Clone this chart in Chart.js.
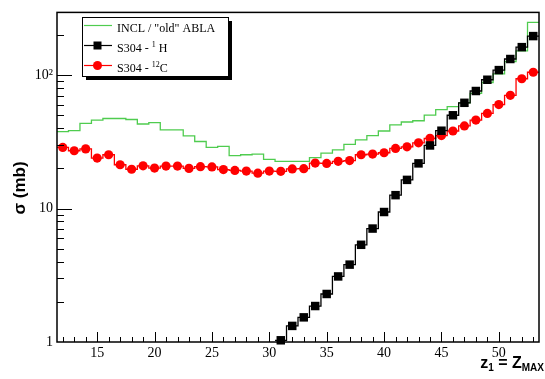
<!DOCTYPE html>
<html>
<head>
<meta charset="utf-8">
<script src="https://cdn.jsdelivr.net/npm/chart.js@4.4.0/dist/chart.umd.min.js"></script>
<style>
  html, body { margin: 0; padding: 0; background: #fff; }
  #wrap { width: 545px; height: 379px; position: relative; }
</style>
</head>
<body>
<div id="wrap"><canvas id="xsec"></canvas></div>
<script>
// z bins of the histograms (bin width 1)
const zBins = [12, 13, 14, 15, 16, 17, 18, 19, 20, 21, 22, 23, 24, 25, 26, 27, 28, 29, 30, 31, 32,
               33, 34, 35, 36, 37, 38, 39, 40, 41, 42, 43, 44, 45, 46, 47, 48, 49, 50, 51, 52, 53];
const zBinsH = [31, 32, 33, 34, 35, 36, 37, 38, 39, 40, 41, 42, 43, 44, 45, 46, 47, 48, 49, 50, 51, 52, 53];

// sigma in mb
const inclAbla = [37.7, 38.3, 43.5, 46.0, 47.3, 47.3, 46.5, 43.0, 44.0, 38.8, 38.8, 35.0, 31.8, 28.7,
                  29.2, 24.9, 25.3, 25.6, 23.4, 22.6, 22.6, 22.6, 24.1, 26.0, 27.5, 30.3, 32.7, 35.2,
                  38.1, 42.3, 44.5, 45.5, 50.2, 55.2, 58.0, 62.0, 73.0, 88.0, 102, 126, 152, 248];
const s304H = [1.03, 1.32, 1.53, 1.86, 2.29, 3.10, 3.80, 5.35, 7.08, 9.42, 12.6, 16.4, 21.8, 29.7,
               38.3, 50.0, 62.0, 76.0, 92.3, 109, 132, 162, 196];
const s304C = [28.7, 27.1, 28.0, 23.9, 25.3, 21.3, 19.7, 20.9, 20.1, 20.8, 20.8, 20.0, 20.6, 20.5,
               19.6, 19.3, 19.1, 18.4, 19.1, 19.0, 19.8, 19.9, 21.9, 21.8, 22.6, 22.9, 25.3, 25.6,
               26.2, 28.2, 29.0, 31.1, 33.6, 35.2, 38.1, 41.6, 46.0, 51.6, 60.1, 70.6, 93.9, 105];

const xTickLabels = [15, 20, 25, 30, 35, 40, 45, 50];
const yTickValues = [1, 10, 100];
const yTickText = ['1', '10', '10²'];

const GREEN = '#4fcc4f';
const RED = '#ff0000';
const BLACK = '#000000';

// histogram outline: value held over [z-0.5, z+0.5]
function histPoints(bins, vals) {
    const pts = bins.map((z, i) => ({ x: z - 0.5, y: vals[i] }));
    pts.push({ x: bins[bins.length - 1] + 0.5, y: vals[vals.length - 1] });
    return pts;
}
function markerPoints(bins, vals) {
    return bins.map((z, i) => ({ x: z, y: vals[i] }));
}

// ticks pointing inward, frame, legend box and axis titles
const rootStyle = {
    id: 'rootStyle',
    afterDraw(chart) {
        const { ctx, chartArea: a, scales: { x, y } } = chart;
        ctx.save();
        ctx.strokeStyle = '#000';
        ctx.lineWidth = 1;
        for (let z = Math.ceil(x.min); z <= x.max; z++) {
            const px = Math.round(x.getPixelForValue(z)) + 0.5;
            const len = z % 5 === 0 ? 10 : 5;
            ctx.beginPath();
            ctx.moveTo(px, a.bottom);
            ctx.lineTo(px, a.bottom - len);
            ctx.stroke();
        }
        y.ticks.forEach(t => {
            const v = t.value;
            const mant = v / Math.pow(10, Math.floor(Math.log10(v) + 1e-9));
            if (Math.abs(mant - Math.round(mant)) > 1e-6) return;
            if (v <= y.min || v > y.max) return;
            const py = Math.round(y.getPixelForValue(v)) + 0.5;
            const len = yTickValues.includes(v) ? 15 : 7;
            ctx.beginPath();
            ctx.moveTo(a.left, py);
            ctx.lineTo(a.left + len, py);
            ctx.stroke();
        });
        ctx.lineWidth = 1.5;
        ctx.strokeRect(a.left, a.top, a.right - a.left, a.bottom - a.top);

        // legend
        const bx = 82, by = 17, bw = 146, bh = 59;
        ctx.fillStyle = '#000';
        ctx.fillRect(bx + 4, by + 4, bw, bh);
        ctx.fillStyle = '#fff';
        ctx.fillRect(bx, by, bw, bh);
        ctx.lineWidth = 1;
        ctx.strokeRect(bx + 0.5, by + 0.5, bw, bh);

        const rows = [
            { color: GREEN, marker: null, y: 25.5, parts: [['INCL / "old" ABLA', 0]] },
            { color: BLACK, marker: 'rect', y: 45.5, parts: [['S304 - ', 0], ['1', 1], [' H', 0]] },
            { color: RED, marker: 'circle', y: 65.5, parts: [['S304 - ', 0], ['12', 1], ['C', 0]] }
        ];
        rows.forEach(r => {
            ctx.strokeStyle = r.color;
            ctx.lineWidth = 1.2;
            ctx.beginPath();
            ctx.moveTo(84, r.y);
            ctx.lineTo(112, r.y);
            ctx.stroke();
            ctx.fillStyle = r.color;
            if (r.marker === 'rect') ctx.fillRect(93.5, r.y - 4, 8, 8);
            if (r.marker === 'circle') {
                ctx.beginPath();
                ctx.arc(97.5, r.y, 4.5, 0, Math.PI * 2);
                ctx.fill();
            }
            ctx.fillStyle = '#000';
            ctx.textBaseline = 'alphabetic';
            ctx.textAlign = 'left';
            let tx = 117;
            r.parts.forEach(([s, sup]) => {
                ctx.font = sup ? "8px 'Liberation Serif'" : "12px 'Liberation Serif'";
                ctx.fillText(s, tx, r.y + 6 - (sup ? 5 : 0));
                tx += ctx.measureText(s).width;
            });
        });

        // y title
        ctx.save();
        ctx.translate(25, 188);
        ctx.rotate(-Math.PI / 2);
        ctx.font = "bold 17px 'Liberation Sans'";
        ctx.textAlign = 'center';
        ctx.textBaseline = 'alphabetic';
        ctx.fillText('σ (mb)', 0, 0);
        ctx.restore();

        // x title, right aligned
        const xt = [['z', 0], ['1', 1], [' = Z', 0], ['MAX', 1]];
        const fontOf = sub => sub ? "bold 10px 'Liberation Sans'" : "bold 16px 'Liberation Sans'";
        let w = 0;
        xt.forEach(([s, sub]) => { ctx.font = fontOf(sub); w += ctx.measureText(s).width; });
        let tx = 544 - w;
        ctx.textAlign = 'left';
        xt.forEach(([s, sub]) => {
            ctx.font = fontOf(sub);
            ctx.fillText(s, tx, 368 + (sub ? 3 : 0));
            tx += ctx.measureText(s).width;
        });
        ctx.restore();
    }
};

new Chart(document.getElementById('xsec'), {
    type: 'line',
    data: {
        datasets: [
            {
                label: 'S304 - 1H',
                data: markerPoints(zBinsH, s304H),
                showLine: false,
                pointStyle: 'rect',
                pointRadius: 6,
                pointBackgroundColor: BLACK,
                pointBorderColor: BLACK,
                pointBorderWidth: 0,
                clip: false,
                order: 0
            },
            {
                label: 'S304 - 12C',
                data: markerPoints(zBins, s304C),
                showLine: false,
                pointStyle: 'circle',
                pointRadius: 4.6,
                pointBackgroundColor: RED,
                pointBorderColor: RED,
                pointBorderWidth: 0,
                clip: false,
                order: 1
            },
            {
                label: 'S304 - 1H hist',
                data: histPoints(zBinsH, s304H),
                stepped: true,
                borderColor: BLACK,
                borderWidth: 1.3,
                pointRadius: 0,
                order: 2
            },
            {
                label: 'S304 - 12C hist',
                data: histPoints(zBins, s304C),
                stepped: true,
                borderColor: RED,
                borderWidth: 1.3,
                pointRadius: 0,
                order: 3
            },
            {
                label: 'INCL / "old" ABLA',
                data: histPoints(zBins, inclAbla),
                stepped: true,
                borderColor: GREEN,
                borderWidth: 1.3,
                pointRadius: 0,
                order: 4
            }
        ]
    },
    options: {
        responsive: true,
        maintainAspectRatio: false,
        animation: false,
        layout: { padding: { top: 10, right: 1, left: 0, bottom: 0 } },
        plugins: {
            legend: { display: false },
            tooltip: { enabled: false }
        },
        scales: {
            x: {
                type: 'linear',
                min: 11.5,
                max: 53.5,
                grid: { display: false, drawTicks: false },
                border: { display: false },
                afterFit: s => { s.height = 37; },
                afterBuildTicks: s => { s.ticks = xTickLabels.map(v => ({ value: v })); },
                ticks: {
                    autoSkip: false,
                    maxRotation: 0,
                    padding: 3,
                    color: '#000',
                    font: { family: "'Liberation Serif'", size: 14 },
                    callback: v => String(v)
                }
            },
            y: {
                type: 'logarithmic',
                min: 1,
                max: 295,
                grid: { display: false, drawTicks: false },
                border: { display: false },
                afterFit: s => { s.width = 57; },
                ticks: {
                    autoSkip: false,
                    padding: 4,
                    color: '#000',
                    font: { family: "'Liberation Serif'", size: 14 },
                    callback: v => {
                        const i = yTickValues.indexOf(v);
                        return i >= 0 ? yTickText[i] : '';
                    }
                }
            }
        }
    },
    plugins: [rootStyle]
});
</script>
</body>
</html>
